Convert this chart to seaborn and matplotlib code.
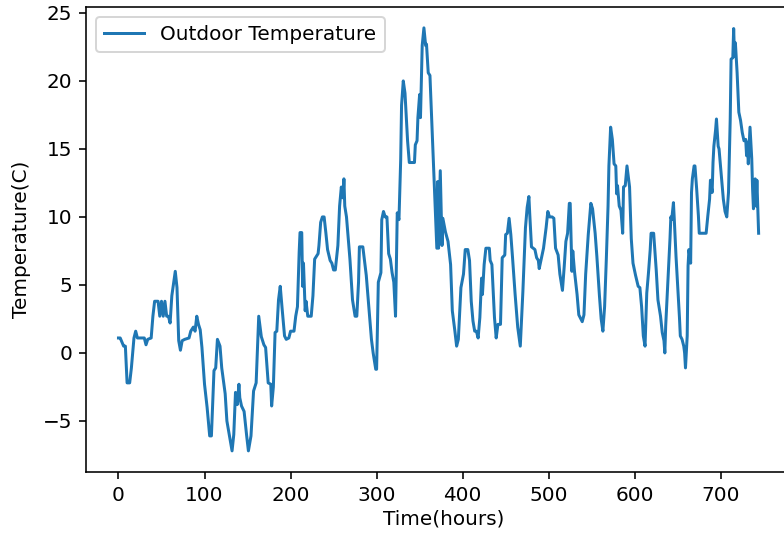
import pandas as pd
import matplotlib
matplotlib.use("Agg")
import matplotlib.pyplot as plt
import seaborn as sns

# ============== 数据（从图上读取的关键点） ==============
hours = [
    0, 2, 6, 8, 10, 13, 15, 18, 20, 22, 30, 32, 34, 38, 39, 40, 42, 46, 48, 50,
    52, 54, 56, 58, 60, 62, 64, 66, 68, 70, 72, 74, 77, 82, 84, 87, 89, 91, 93, 95,
    97, 100, 103, 106, 108, 111, 113, 115, 118, 120, 124, 126, 129, 132, 134, 136, 138, 140, 141, 143,
    146, 149, 151, 154, 157, 160, 163, 166, 169, 171, 174, 177, 178, 180, 182, 184, 186, 188, 190, 193,
    195, 198, 200, 204, 206, 208, 210, 211, 213, 214, 215, 217, 218, 220, 224, 226, 228, 230, 232, 233,
    235, 237, 239, 241, 243, 246, 248, 250, 252, 255, 257, 259, 261, 262, 263, 265, 269, 272, 275, 277,
    279, 280, 284, 288, 292, 294, 296, 299, 300, 302, 305, 306, 308, 310, 312, 314, 316, 318, 320, 322,
    324, 326, 328, 329, 331, 333, 334, 336, 338, 344, 345, 347, 348, 350, 351, 353, 355, 357, 358, 360,
    362, 366, 370, 371, 372, 374, 376, 377, 380, 383, 386, 388, 391, 393, 395, 398, 401, 403, 406, 408,
    410, 412, 414, 416, 418, 420, 422, 423, 425, 427, 431, 432, 434, 437, 439, 441, 444, 446, 449, 450,
    452, 454, 456, 458, 461, 464, 467, 470, 473, 475, 477, 478, 480, 484, 486, 488, 489, 491, 494, 497,
    499, 501, 504, 506, 508, 511, 513, 516, 518, 520, 522, 524, 525, 527, 528, 530, 533, 535, 539, 541,
    543, 546, 549, 551, 554, 556, 559, 561, 563, 565, 567, 569, 570, 572, 574, 576, 578, 579, 580, 582,
    584, 586, 587, 589, 591, 594, 596, 598, 601, 604, 606, 608, 610, 612, 614, 616, 618, 619, 622, 625,
    627, 630, 632, 634, 635, 636, 639, 641, 642, 643, 645, 646, 648, 650, 652, 653, 655, 657, 658, 659,
    661, 662, 663, 665, 666, 667, 669, 670, 672, 674, 675, 683, 685, 687, 688, 690, 691, 692, 694, 695,
    697, 698, 701, 703, 705, 707, 709, 711, 712, 714, 715, 716, 717, 719, 721, 723, 725, 727, 729, 730,
    731, 732, 734, 736, 737, 738, 740, 741, 742, 744,
]
temps = [
    1.1, 1.1, 0.5, 0.5, -2.2, -2.2, -1.1, 1.1, 1.6, 1.1, 1.1, 0.6, 1.0, 1.1, 1.9, 2.7, 3.8, 3.8, 2.7, 3.8,
    2.7, 3.8, 2.7, 2.7, 2.2, 4.2, 5.1, 6.0, 4.8, 0.9, 0.2, 0.9, 1.0, 1.1, 1.6, 1.9, 1.6, 2.7, 2.1, 1.7,
    0.4, -2.3, -4.0, -6.1, -6.1, -1.3, -1.1, 1.0, 0.5, -1.1, -3.0, -5.0, -6.1, -7.2, -6.0, -2.9, -3.8, -2.3, -3.3, -3.9,
    -4.3, -6.1, -7.2, -6.1, -2.8, -2.2, 2.7, 1.2, 0.6, 0.4, -2.2, -2.3, -3.9, -2.5, 1.5, 1.6, 3.9, 4.9, 3.4, 1.25,
    1.0, 1.1, 1.6, 1.6, 2.7, 3.4, 7.4, 8.85, 8.85, 4.9, 6.6, 3.1, 3.8, 2.7, 2.7, 4.2, 6.9, 7.1, 7.3, 7.9,
    9.6, 10.0, 10.0, 8.85, 7.6, 6.8, 6.6, 6.1, 6.1, 7.9, 10.8, 12.2, 11.4, 12.8, 10.8, 10.0, 6.9, 3.9, 2.7, 2.7,
    5.2, 7.8, 7.8, 5.7, 2.5, 1.0, 0.0, -1.2, -1.2, 5.2, 5.9, 9.8, 10.4, 10.0, 10.0, 7.3, 6.9, 5.9, 5.2, 2.7,
    10.3, 9.8, 14.2, 18.2, 20.0, 19.1, 17.9, 15.6, 14.0, 14.0, 15.3, 15.6, 17.3, 19.0, 17.3, 22.6, 23.9, 22.6, 22.7, 20.6,
    20.4, 14.1, 7.7, 12.6, 7.7, 13.4, 7.9, 9.9, 8.9, 8.2, 6.5, 3.1, 1.6, 0.5, 1.0, 4.8, 5.8, 7.6, 7.6, 6.8,
    3.8, 2.35, 1.6, 1.6, 1.1, 2.6, 5.5, 4.3, 6.5, 7.7, 7.7, 6.8, 6.5, 2.6, 1.1, 2.1, 2.1, 7.0, 7.2, 8.7,
    8.8, 9.9, 8.7, 7.0, 4.3, 1.9, 0.5, 4.5, 9.2, 10.7, 11.5, 10.2, 7.8, 7.6, 7.0, 6.8, 6.2, 6.8, 7.7, 9.2,
    10.4, 10.0, 10.0, 9.9, 7.7, 7.2, 5.8, 4.6, 6.3, 8.2, 8.8, 11.0, 11.0, 6.0, 7.5, 6.0, 4.3, 2.8, 2.3, 2.8,
    5.8, 8.7, 11.0, 10.6, 8.8, 7.1, 4.2, 2.5, 1.6, 3.4, 6.9, 10.8, 13.75, 16.6, 15.7, 13.9, 13.75, 11.7, 12.3, 10.8,
    10.5, 8.8, 12.2, 12.3, 13.75, 12.2, 8.4, 6.6, 5.7, 4.9, 4.8, 3.4, 1.25, 0.5, 4.4, 5.9, 7.6, 8.8, 8.8, 6.1,
    3.9, 2.7, 1.5, 0.9, 0.0, 2.0, 5.9, 8.4, 10.0, 9.8, 11.05, 9.8, 7.1, 4.9, 2.6, 1.25, 1.0, 0.5, 0.0, -1.1,
    1.25, 6.4, 7.6, 6.6, 11.8, 12.8, 13.75, 13.75, 12.05, 10.1, 8.8, 8.8, 10.1, 11.3, 12.7, 11.8, 14.0, 15.2, 16.4, 17.2,
    15.2, 15.0, 12.8, 11.3, 10.4, 10.0, 11.8, 17.2, 21.6, 21.7, 23.85, 21.8, 22.8, 20.6, 17.7, 17.1, 16.2, 15.6, 15.7, 14.5,
    15.5, 13.9, 16.6, 14.3, 12.05, 10.6, 12.8, 10.8, 12.7, 8.8,
]

df = pd.DataFrame({"Time(hours)": hours, "Temperature(C)": temps})

# ============== 画布（原图约 144 dpi，文字和线条都偏大） ==============
DPI = 144
fig = plt.figure(figsize=(784 / DPI, 533 / DPI), dpi=DPI)
# 原图右侧被裁掉了，所以坐标轴右边界超出画布
ax = fig.add_axes([0.1103, 0.1144, 0.91, 0.873])

sns.lineplot(
    x="Time(hours)", y="Temperature(C)", data=df,
    sort=False, estimator=None,
    color="#1f77b4", linewidth=1.5,
    label="Outdoor Temperature", ax=ax
)

ax.set_xlim(-37.2, 792)
ax.set_xticks([0, 100, 200, 300, 400, 500, 600, 700])
ax.set_yticks([-5, 0, 5, 10, 15, 20, 25])
ax.set_xlabel("Time(hours)", labelpad=2)
ax.set_ylabel("Temperature(C)", labelpad=6)
ax.legend(loc="upper left")

fig.savefig("out.png", dpi=DPI)
